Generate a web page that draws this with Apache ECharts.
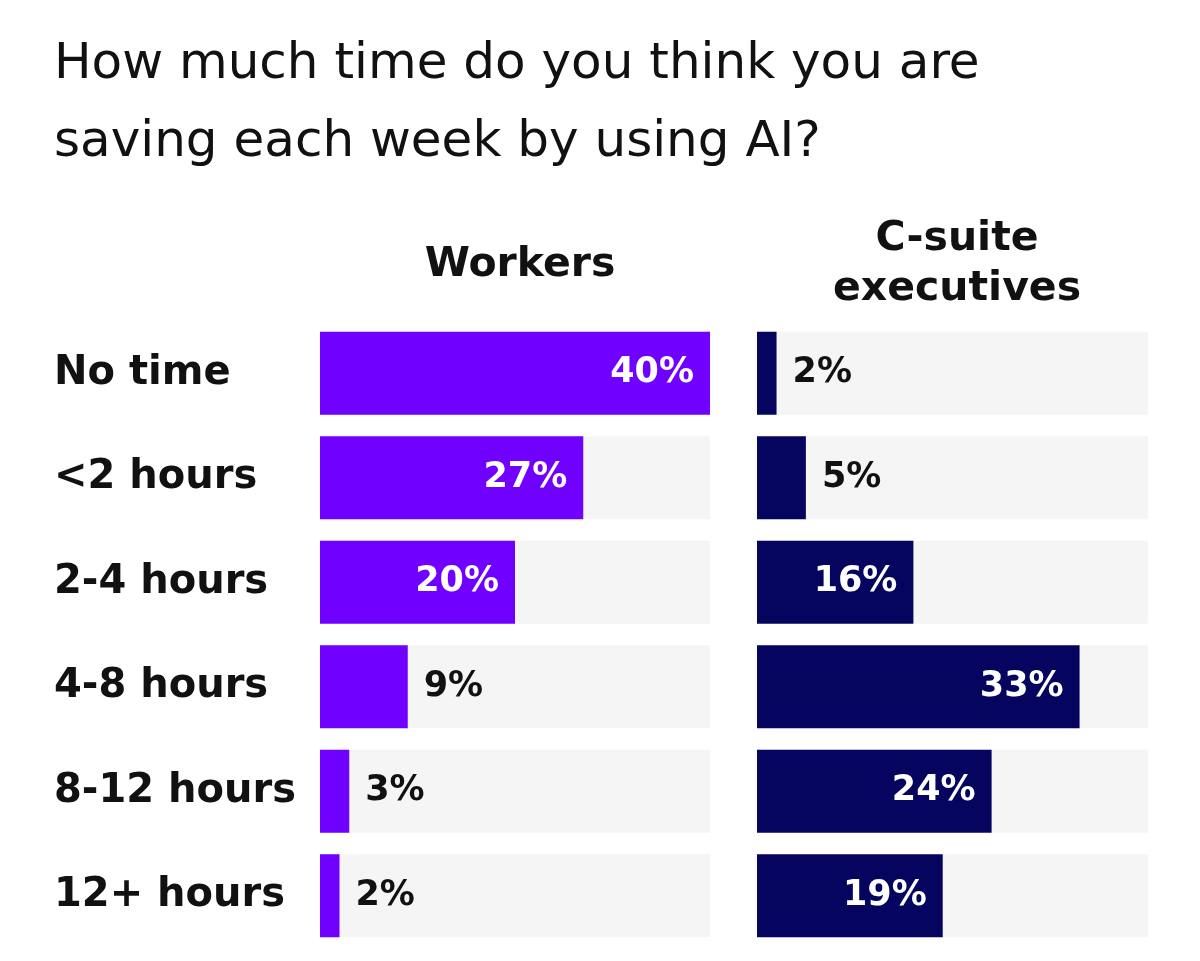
<!DOCTYPE html>
<html><head><meta charset="utf-8">
<script src="https://cdn.jsdelivr.net/npm/echarts@6/dist/echarts.min.js"></script>
<style>html,body{margin:0;padding:0;background:#fff}#c{width:1200px;height:961px}</style>
</head><body><div id="c"></div>
<script>
const categories = ['No time', '<2 hours', '2-4 hours', '4-8 hours', '8-12 hours', '12+ hours'];
const workers = [40, 27, 20, 9, 3, 2];
const csuite = [2, 5, 16, 33, 24, 19];
const titleText = 'How much time do you think you are\nsaving each week by using AI?';
const panelTitles = ['Workers', 'C-suite\nexecutives'];

const FONT = 'DejaVu Sans';
function mkData(arr) {
  return arr.map(v => {
    const inside = v >= 15;
    return {
      value: v,
      label: inside
        ? { position: 'insideRight', distance: 16, color: '#ffffff' }
        : { position: 'right', distance: 16, color: '#111111' }
    };
  });
}
const chart = echarts.init(document.getElementById('c'));
const labelBase = { show: true, fontFamily: FONT, fontWeight: 700, fontSize: 35, formatter: p => p.value + '%' };
chart.setOption({
  animation: false,
  title: [
    { text: titleText, left: 49, top: 21, textStyle: { fontFamily: FONT, fontWeight: 400, fontSize: 50, lineHeight: 78, color: '#111' } },
    { text: panelTitles[0], left: 515, top: 235, textAlign: 'center', textStyle: { fontFamily: FONT, fontWeight: 700, fontSize: 41, lineHeight: 50, color: '#111' } },
    { text: panelTitles[1], left: 952, top: 209, textAlign: 'center', textStyle: { fontFamily: FONT, fontWeight: 700, fontSize: 41, lineHeight: 50, color: '#111' } }
  ],
  grid: [
    { left: 320, width: 390, top: 321, height: 627 },
    { left: 757, width: 391, top: 321, height: 627 }
  ],
  xAxis: [
    { gridIndex: 0, type: 'value', min: 0, max: 40, show: false },
    { gridIndex: 1, type: 'value', min: 0, max: 40, show: false }
  ],
  yAxis: [
    { gridIndex: 0, type: 'category', data: categories, inverse: true,
      axisLine: { show: false }, axisTick: { show: false },
      axisLabel: { align: 'left', margin: 266, fontFamily: FONT, fontWeight: 700, fontSize: 40, color: '#111' } },
    { gridIndex: 1, type: 'category', data: categories, inverse: true, show: false }
  ],
  series: [
    { type: 'bar', xAxisIndex: 0, yAxisIndex: 0, data: mkData(workers), barWidth: 83,
      itemStyle: { color: '#7000FF' }, showBackground: true, backgroundStyle: { color: '#F5F5F5' },
      label: labelBase },
    { type: 'bar', xAxisIndex: 1, yAxisIndex: 1, data: mkData(csuite), barWidth: 83,
      itemStyle: { color: '#05055F' }, showBackground: true, backgroundStyle: { color: '#F5F5F5' },
      label: labelBase }
  ]
});
</script></body></html>
